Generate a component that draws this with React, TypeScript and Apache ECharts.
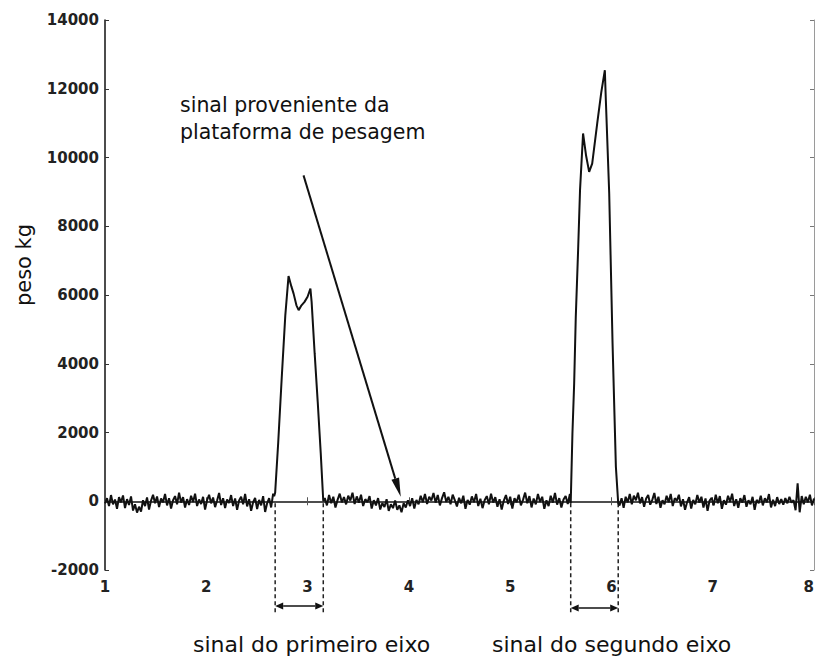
import { useEffect, useRef } from "react";
import * as echarts from "echarts";

// Weigh-in-motion platform record: time (s) vs load (kg)
const yTicks = [-2000, 0, 2000, 4000, 6000, 8000, 10000, 12000, 14000];
const xTicks = [1, 2, 3, 4, 5, 6, 7, 8];

// Platform noise before the first axle (t 1.00 to 2.66)
const baselineA = [
  -60, 90, -140, 180, -90, 50, -220, 120, -30, 170,
  -200, 60, -110, 140, -270, -90, -330, -160, -300, 30,
  -140, 110, -240, 20, 190, -60, 140, -170, 80, -30,
  210, -120, 90, -210, 30, 150, -90, 250, -40, 120,
  -180, 60, -110, 160, -20, 220, -140, 50, -80, 130,
  -240, 30, 190, -60, 110, -170, 20, 240, -110, 90,
  -200, 50, -50, 180, -140, 80, -250, 20, 130, -90,
  210, -150, 60, -280, -30, 100, -230, 40, -120, 150,
  -310, -60, 90, -180, 220,
];

// Platform noise between the two axles (t 3.17 to 5.59)
const baselineB = [
  90, -120, 180, -60, 130, -180, 40, 220, -30, 120,
  -90, 160, 20, 250, -80, 140, -40, 190, -140, 60,
  -30, 150, -210, 30, -120, 90, -240, -50, -170, 60,
  -280, -90, -200, 20, -250, -120, -320, -60, -180, 30,
  -140, 90, -210, 40, -90, 160, -30, 210, -80, 130,
  20, 240, -40, 180, -120, 90, 260, -20, 130, -90,
  190, 30, -150, 100, -60, 160, -220, 40, -100, 140,
  -30, 210, -140, 70, -200, 30, 150, -90, 220, -40,
  120, -160, 60, -240, 20, 180, -80, 130, -210, 90,
  -30, 190, -120, 40, 250, -60, 150, -180, 80, -90,
  210, -20, 130, -220, 30, -140, 160, -40, 240, -100,
  90, -180, 50, 150, -80, 210,
];

// Platform noise after the second axle (t 6.08 to 8.00)
const baselineC = [
  -120, 90, -190, 130, -30, 210, -90, 160, 30, 250,
  -60, 120, -160, 80, 180, -100, 40, 240, -80, 130,
  -190, 30, -90, 160, -30, 210, -140, 90, 20, 190,
  -150, 60, -250, -30, 120, -210, 40, -90, 180, -40,
  130, -180, 80, -280, 20, 100, -120, 190, -60, 150,
  -220, 30, -100, 160, -20, 220, -140, 60, -190, 90,
  -40, 180, -160, 30, -90, 130, -250, 40, -60, 160,
  -120, 90, -30, 210, -180, 40, -140, 120, -80, 60,
  -100, 90, -60, 130, -40, 30, -260, 520, -320, 150,
  -90, 130, -30, 190, -120, 80,
];

// First axle crossing the platform: [t, kg]
const firstAxle: [number, number][] = [
  [2.67, 150], [2.68, 250], [2.71, 1700], [2.745, 3600], [2.78, 5400],
  [2.812, 6550], [2.84, 6250], [2.862, 6040], [2.89, 5700], [2.912, 5560],
  [2.94, 5700], [2.97, 5800], [3.0, 5950], [3.028, 6190], [3.04, 5800],
  [3.07, 4300], [3.1, 2900], [3.13, 1400], [3.155, 0],
];

// Second axle crossing the platform: [t, kg]
const secondAxle: [number, number][] = [
  [5.598, -60], [5.615, 1970], [5.632, 3420], [5.648, 5360], [5.671, 7300],
  [5.69, 9050], [5.72, 10700], [5.75, 10050], [5.78, 9580], [5.81, 9820],
  [5.86, 11000], [5.9, 11900], [5.935, 12540], [5.945, 11660], [5.978, 8960],
  [6.011, 4600], [6.044, 1000], [6.067, -60],
];

const baselineSpans: [number, number][] = [[1.0, 2.66], [3.17, 5.59], [6.08, 8.0]];

// Duration of each axle signal
const axleSpans: [number, number][] = [[2.68, 3.155], [5.598, 6.067]];
const axleLabels = ["sinal do primeiro eixo", "sinal do segundo eixo"];

// Pointer from the note to the platform signal: [t, kg]
const pointerFrom: [number, number] = [2.96, 9480];
const pointerTo: [number, number] = [3.92, 130];
const noteLines = ["sinal proveniente da", "plataforma de pesagem"];

const spread = (vals: number[], t0: number, t1: number): [number, number][] =>
  vals.map((v, i) => [t0 + ((t1 - t0) * i) / (vals.length - 1), v]);

const signal: [number, number][] = [
  ...spread(baselineA, baselineSpans[0][0], baselineSpans[0][1]),
  ...firstAxle,
  ...spread(baselineB, baselineSpans[1][0], baselineSpans[1][1]),
  ...secondAxle,
  ...spread(baselineC, baselineSpans[2][0], baselineSpans[2][1]),
];

const FONT = "DejaVu Sans";

export default function App() {
  const ref = useRef<HTMLDivElement>(null);

  useEffect(() => {
    if (!ref.current) return;
    const chart = echarts.init(ref.current, undefined, { renderer: "svg" });

    const tickLabel = {
      fontFamily: FONT,
      fontWeight: "bold" as const,
      fontSize: 15,
      color: "#222",
      formatter: (v: number) => String(v),
    };

    chart.setOption({
      animation: false,
      backgroundColor: "#fff",
      grid: {
        left: 105,
        top: 20,
        right: 1,
        bottom: 87,
        show: false,
        containLabel: false,
        outerBoundsMode: "none",
      },
      xAxis: [
        {
          type: "value",
          min: xTicks[0],
          max: xTicks[xTicks.length - 1],
          interval: 1,
          position: "bottom",
          axisLine: { lineStyle: { color: "#9a9a9a", width: 2 } },
          axisTick: { inside: true, length: 4, lineStyle: { color: "#555" } },
          axisLabel: { ...tickLabel, margin: 9, hideOverlap: false, alignMaxLabel: "right" },
          splitLine: { show: false },
        },
        {
          type: "value",
          min: xTicks[0],
          max: xTicks[xTicks.length - 1],
          interval: 1,
          position: "top",
          axisLine: { lineStyle: { color: "#333", width: 1.5 } },
          axisTick: { inside: true, length: 4, lineStyle: { color: "#555" } },
          axisLabel: { show: false },
          splitLine: { show: false },
        },
      ],
      yAxis: [
        {
          type: "value",
          min: yTicks[0],
          max: yTicks[yTicks.length - 1],
          interval: 2000,
          position: "left",
          axisLine: { show: true, lineStyle: { color: "#111", width: 1.5 } },
          axisTick: { show: true, inside: true, length: 4, lineStyle: { color: "#333" } },
          axisLabel: { ...tickLabel, margin: 6 },
          splitLine: { show: false },
        },
        {
          type: "value",
          min: yTicks[0],
          max: yTicks[yTicks.length - 1],
          interval: 2000,
          position: "right",
          axisLine: { show: true, lineStyle: { color: "#9a9a9a", width: 1 } },
          axisTick: { show: true, inside: true, length: 4, lineStyle: { color: "#777" } },
          axisLabel: { show: false },
          splitLine: { show: false },
        },
      ],
      series: [
        {
          type: "line",
          data: signal,
          xAxisIndex: 0,
          yAxisIndex: 0,
          showSymbol: false,
          symbol: "none",
          lineStyle: { color: "#111", width: 2 },
          silent: true,
        },
      ],
    });

    const px = (p: [number, number]) =>
      chart.convertToPixel({ xAxisIndex: 0, yAxisIndex: 0 }, p) as number[];

    const graphics: any[] = [];

    // Pointer from the note down to the platform trace
    const a = px(pointerFrom);
    const b = px(pointerTo);
    const ang = Math.atan2(b[1] - a[1], b[0] - a[0]);
    const headLen = 19;
    const headHalf = 4;
    const baseX = b[0] - headLen * Math.cos(ang);
    const baseY = b[1] - headLen * Math.sin(ang);
    graphics.push({
      type: "line",
      shape: { x1: a[0], y1: a[1], x2: baseX, y2: baseY },
      style: { stroke: "#111", lineWidth: 2 },
    });
    graphics.push({
      type: "polygon",
      shape: {
        points: [
          [b[0], b[1]],
          [baseX + headHalf * Math.sin(ang), baseY - headHalf * Math.cos(ang)],
          [baseX - headHalf * Math.sin(ang), baseY + headHalf * Math.cos(ang)],
        ],
      },
      style: { fill: "#111" },
    });

    // Dashed markers and double arrows for each axle signal
    const dimY = [606, 608];
    axleSpans.forEach((span, k) => {
      const p0 = px([span[0], 0]);
      const p1 = px([span[1], 0]);
      [p0, p1].forEach((p) => {
        graphics.push({
          type: "line",
          shape: { x1: p[0], y1: p[1] + 2, x2: p[0], y2: 615 },
          style: { stroke: "#222", lineWidth: 1.5, lineDash: [4, 3] },
        });
      });
      const y = dimY[k];
      const h = 8;
      const w = 3.5;
      graphics.push({
        type: "line",
        shape: { x1: p0[0] + h, y1: y, x2: p1[0] - h, y2: y },
        style: { stroke: "#111", lineWidth: 1.5 },
      });
      graphics.push({
        type: "polygon",
        shape: { points: [[p0[0], y], [p0[0] + h, y - w], [p0[0] + h, y + w]] },
        style: { fill: "#111" },
      });
      graphics.push({
        type: "polygon",
        shape: { points: [[p1[0], y], [p1[0] - h, y - w], [p1[0] - h, y + w]] },
        style: { fill: "#111" },
      });
    });

    // Axle captions under the axis
    const captionX = [193, 492];
    axleLabels.forEach((txt, k) => {
      graphics.push({
        type: "text",
        x: captionX[k],
        y: 644,
        style: {
          text: txt,
          fontFamily: FONT,
          fontSize: 22,
          fill: "#111",
          align: "left",
          verticalAlign: "middle",
        },
      });
    });

    // Note text
    noteLines.forEach((txt, k) => {
      graphics.push({
        type: "text",
        x: 180,
        y: 105 + k * 27,
        style: {
          text: txt,
          fontFamily: FONT,
          fontSize: 20.5,
          fill: "#111",
          align: "left",
          verticalAlign: "middle",
        },
      });
    });

    // Vertical axis title
    graphics.push({
      type: "text",
      x: 24,
      y: 265,
      rotation: Math.PI / 2,
      style: {
        text: "peso kg",
        fontFamily: FONT,
        fontSize: 21,
        fill: "#111",
        align: "center",
        verticalAlign: "middle",
      },
    });

    chart.setOption({ graphic: graphics });

    return () => chart.dispose();
  }, []);

  return (
    <div
      ref={ref}
      style={{ position: "absolute", left: 0, top: 0, width: 815, height: 657 }}
    />
  );
}
